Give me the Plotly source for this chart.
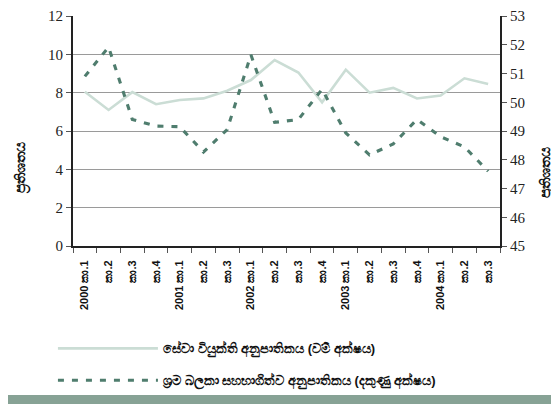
import plotly.graph_objects as go

quarters = ["2000 කා.1", "කා.2", "කා.3", "කා.4",
            "2001 කා.1", "කා.2", "කා.3",
            "2002 කා.1", "කා.2", "කා.3", "කා.4",
            "2003 කා.1", "කා.2", "කා.3", "කා.4",
            "2004 කා.1", "කා.2", "කා.3"]
unemployment = [8.05, 7.1, 8.03, 7.4, 7.62, 7.7, 8.1, 8.66, 9.7, 9.05, 7.5, 9.2,
                8.0, 8.25, 7.7, 7.85, 8.75, 8.45]
participation = [50.9, 51.92, 49.4, 49.17, 49.15, 48.27, 49.05, 51.65, 49.3, 49.4,
                 50.45, 48.93, 48.17, 48.55, 49.4, 48.8, 48.45, 47.6]
left_ticks = [0, 2, 4, 6, 8, 10, 12]
right_ticks = [45, 46, 47, 48, 49, 50, 51, 52, 53]

name_unemp = "සේවා වියුක්ති අනුපාතිකය (වම් අක්ෂය)"
name_part = "ශ්‍රම බලකා සහභාගිත්ව අනුපාතිකය (දකුණු අක්ෂය)"
axis_title = "ප්‍රතිශතය"

x = list(range(len(quarters)))

fig = go.Figure()
fig.add_trace(go.Scatter(x=x, y=unemployment, mode="lines", name="<b>" + name_unemp + "</b>",
                         legendgroup="a",
                         line=dict(color="#cbddd5", width=2.6)))
fig.add_trace(go.Scatter(x=x, y=participation, mode="lines", name="<b>" + name_part + "</b>",
                         legendgroup="b", yaxis="y2",
                         line=dict(color="#4f7d6e", width=3.1, dash="6px,8px")))

tick_font = dict(family="Liberation Serif", size=15, color="#222")
title_font = dict(family="Liberation Sans", size=14, color="#111")
fig.update_layout(
    width=551, height=396,
    margin=dict(l=65, r=59, t=8, b=158, autoexpand=False),
    paper_bgcolor="white", plot_bgcolor="white",
    showlegend=True,
    legend=dict(orientation="v", x=-0.047, y=-0.38, xanchor="left", yanchor="top",
                font=dict(family="Liberation Sans", size=13, color="#111"),
                itemwidth=100, tracegroupgap=12, bgcolor="rgba(0,0,0,0)"),
    xaxis=dict(range=[-0.5, len(quarters) - 0.5], tickmode="array", tickvals=x,
               ticktext=["<b>" + q + "</b>" for q in quarters], tickangle=-90,
               ticks="", showgrid=False, zeroline=False, automargin=False,
               ticklabelstandoff=8,
               showline=True, linecolor="#222", linewidth=2,
               tickfont=dict(family="Liberation Sans", size=11, color="#111"),
               minor=dict(tickmode="array",
                          tickvals=[i - 0.5 for i in range(len(quarters) + 1)],
                          ticks="outside", ticklen=5, tickcolor="#555", showgrid=False)),
    yaxis=dict(range=[0, 12], tickmode="array", tickvals=left_ticks,
               showgrid=True, gridcolor="#9a9a9a", gridwidth=1, zeroline=False,
               showline=True, linecolor="#222", linewidth=2, automargin=False,
               ticks="outside", ticklen=5, tickcolor="#555",
               tickfont=tick_font),
    yaxis2=dict(range=[45, 53], tickmode="array", tickvals=right_ticks,
                overlaying="y", side="right", showgrid=False, zeroline=False,
                showline=True, linecolor="#222", linewidth=2, automargin=False,
                ticks="outside", ticklen=5, tickcolor="#555",
                tickfont=tick_font),
    annotations=[
        dict(text="<b>" + axis_title + "</b>", xref="paper", yref="paper",
             x=-0.119, y=0.34, textangle=-90, showarrow=False, font=title_font,
             xanchor="center", yanchor="middle"),
        dict(text="<b>" + axis_title + "</b>", xref="paper", yref="paper",
             x=1.108, y=0.32, textangle=-90, showarrow=False, font=title_font,
             xanchor="center", yanchor="middle"),
    ],
    shapes=[dict(type="rect", xref="paper", yref="paper", x0=-0.25, x1=1.25,
                 y0=-0.72, y1=-0.648, fillcolor="#87a295", line=dict(width=0),
                 layer="below")],
)

fig.write_html("out.html")
